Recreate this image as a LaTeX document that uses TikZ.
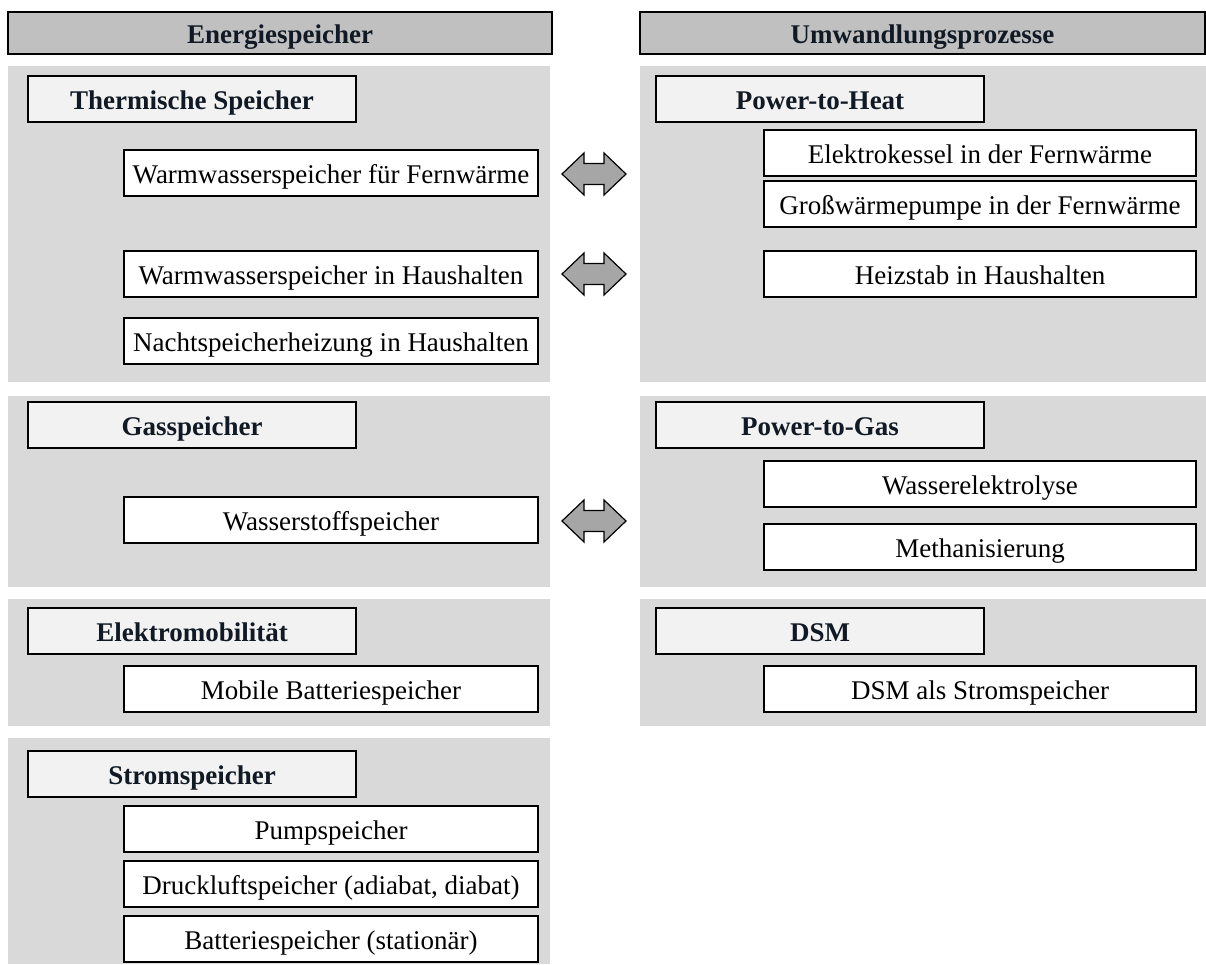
\documentclass[tikz,border=0pt]{standalone}
\usepackage{fontspec}
\setmainfont{Liberation Serif}
\definecolor{hdrgray}{HTML}{C0C0C0}
\definecolor{panelgray}{HTML}{D9D9D9}
\definecolor{titlegray}{HTML}{F2F2F2}
\definecolor{arrowgray}{HTML}{A6A6A6}
\definecolor{ink}{HTML}{111A24}
\begin{document}
\begin{tikzpicture}[x=1pt,y=-1pt,
  every node/.style={inner sep=0pt, outer sep=0pt, anchor=north west,
    text height=21pt, text depth=0pt},
  txt/.style={font=\fontsize{27}{32}\selectfont},
  btxt/.style={font=\fontsize{27}{32}\selectfont\bfseries, text=ink},
  header/.style={btxt, draw=black, line width=1.5pt, fill=hdrgray, minimum height=42pt},
  panel/.style={fill=panelgray},
  titlebox/.style={btxt, draw=black, line width=1.5pt, fill=titlegray, minimum width=328pt, minimum height=46pt},
  itembox/.style={txt, draw=black, line width=1.2pt, fill=white, minimum height=46pt},
  litem/.style={itembox, minimum width=414pt},
  ritem/.style={itembox, minimum width=432pt},
  dblarrow/.style={draw=black, line width=1.2pt, fill=arrowgray, line join=miter}
]
\useasboundingbox (0,0) rectangle (1206,964);

% column headers
\node[header, minimum width=544pt] (hL) at (8,12) {Energiespeicher};
\node[header, minimum width=565pt] (hR) at (640,12) {Umwandlungsprozesse};

% grey group panels
\fill[panel] (8,66) rectangle (550,382);
\fill[panel] (8,396) rectangle (550,587);
\fill[panel] (8,599) rectangle (550,726);
\fill[panel] (8,738) rectangle (550,964);
\fill[panel] (640,66) rectangle (1206,382);
\fill[panel] (640,396) rectangle (1206,587);
\fill[panel] (640,599) rectangle (1206,726);

% storage side
\node[titlebox] (tTherm) at (28,76) {Thermische Speicher};
\node[litem] (wwF) at (124,150) {Warmwasserspeicher für Fernwärme};
\node[litem] (wwH) at (124,251) {Warmwasserspeicher in Haushalten};
\node[litem] (nsh) at (124,318) {Nachtspeicherheizung in Haushalten};

\node[titlebox] (tGas) at (28,402) {Gasspeicher};
\node[litem] (h2) at (124,497) {Wasserstoffspeicher};

\node[titlebox] (tEmob) at (28,608) {Elektromobilität};
\node[litem] (mob) at (124,666) {Mobile Batteriespeicher};

\node[titlebox] (tStrom) at (28,751) {Stromspeicher};
\node[litem] (psw) at (124,806) {Pumpspeicher};
\node[litem] (caes) at (124,861) {Druckluftspeicher (adiabat, diabat)};
\node[litem] (batt) at (124,916) {Batteriespeicher (stationär)};

% conversion side
\node[titlebox] (tPtH) at (656,76) {Power-to-Heat};
\node[ritem] (ekessel) at (764,130) {Elektrokessel in der Fernwärme};
\node[ritem] (gwp) at (764,181) {Großwärmepumpe in der Fernwärme};
\node[ritem] (heiz) at (764,251) {Heizstab in Haushalten};

\node[titlebox] (tPtG) at (656,402) {Power-to-Gas};
\node[ritem] (elyse) at (764,461) {Wasserelektrolyse};
\node[ritem] (meth) at (764,524) {Methanisierung};

\node[titlebox] (tDSM) at (656,608) {DSM};
\node[ritem] (dsm) at (764,666) {DSM als Stromspeicher};

% double-headed block arrows between the columns
\coordinate (a1) at (594,174);
\coordinate (a2) at (594,274);
\coordinate (a3) at (594,521);
\foreach \c in {a1,a2,a3}{
  \draw[dblarrow] (\c) ++(-32,0) -- ++(22,-21) -- ++(0,10.5) -- ++(20,0)
    -- ++(0,-10.5) -- ++(22,21) -- ++(-22,21) -- ++(0,-10.5) -- ++(-20,0)
    -- ++(0,10.5) -- cycle;
}
\end{tikzpicture}
\end{document}
